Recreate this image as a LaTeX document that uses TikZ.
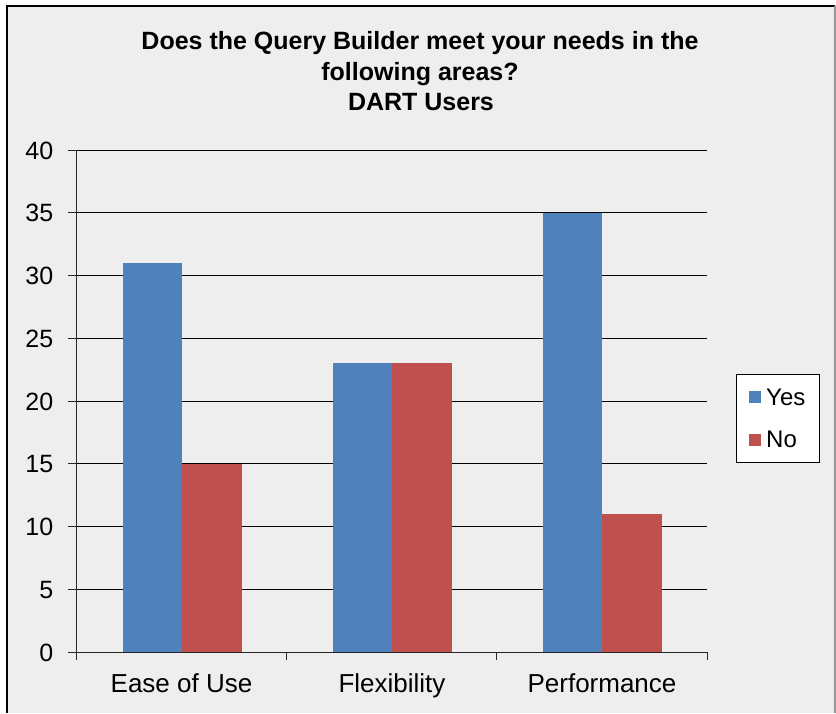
\documentclass[tikz,border=0pt]{standalone}
\usepackage{fontspec}
\setmainfont{Liberation Sans}
\definecolor{chartbg}{RGB}{238,238,238}
\definecolor{yesblue}{RGB}{79,129,189}
\definecolor{nored}{RGB}{192,80,77}
\definecolor{framegray}{RGB}{150,150,150}
\begin{document}
\begin{tikzpicture}[x=1pt,y=-1pt,
  titletext/.style={font=\fontsize{25}{30}\selectfont\bfseries, inner sep=0pt, anchor=base},
  cattext/.style={font=\fontsize{26}{30}\selectfont, inner sep=0pt, anchor=base},
  ticktext/.style={font=\fontsize{25}{30}\selectfont, inner sep=0pt, anchor=base east},
  legtext/.style={font=\fontsize{24}{28}\selectfont, inner sep=0pt, anchor=base west},
  gridline/.style={draw=black, line width=1pt},
  axisline/.style={draw=black!85, line width=1pt},
  yesbar/.style={fill=yesblue},
  nobar/.style={fill=nored}]
  % canvas and chart area
  \useasboundingbox (0,0) rectangle (836,713);
  \fill[white] (0,0) rectangle (836,713);
  \fill[chartbg] (7,6) rectangle (835,713);
  \draw[black, line width=1.6pt] (7,713) -- (7,6) -- (835,6);
  \draw[framegray, line width=1.2pt] (835,6) -- (835,713);

  % title
  \node[titletext] (t1) at (420,49) {Does the Query Builder meet your needs in the};
  \node[titletext] (t2) at (420,80.5) {following areas?};
  \node[titletext] (t3) at (421,110) {DART Users};

  % value axis: 0..40, 12.55 px per unit, zero at y=652
  \foreach \v in {5,10,...,40}{
    \draw[gridline] (76.5,{652-12.55*\v}) -- (707,{652-12.55*\v});
  }
  \foreach \v in {0,5,...,40}{
    \draw[axisline] (68,{652-12.55*\v}) -- (76.5,{652-12.55*\v});
    \node[ticktext] (tick\v) at (53.5,{652-12.55*\v+9}) {\v};
  }

  % bars (category width 210, bar width 60)
  \foreach \i/\y/\n in {0/31/15, 1/23/23, 2/35/11}{
    \fill[yesbar] ({122.5+210*\i},652) rectangle ({182.3+210*\i},{652-12.55*\y});
    \fill[nobar]  ({182.3+210*\i},652) rectangle ({242+210*\i},{652-12.55*\n});
  }

  % axes
  \draw[axisline] (76.5,150) -- (76.5,660);
  \draw[axisline] (68,652) -- (707,652);
  \foreach \k in {0,1,2,3}{
    \draw[axisline] ({76.5+210.2*\k},652) -- ({76.5+210.2*\k},660);
  }

  % category labels
  \node[cattext] (c1) at (181.5,692) {Ease of Use};
  \node[cattext] (c2) at (392,692) {Flexibility};
  \node[cattext] (c3) at (602,692) {Performance};

  % legend
  \node[draw=black, line width=1pt, fill=white, minimum width=83pt, minimum height=88pt, inner sep=0pt] (legend) at (777.5,418) {};
  \fill[yesblue] (749,391) rectangle (761,402.5);
  \fill[nored] (749,434) rectangle (761,446);
  \node[legtext] (lyes) at (766,405) {Yes};
  \node[legtext] (lno) at (766,447) {No};
\end{tikzpicture}
\end{document}
